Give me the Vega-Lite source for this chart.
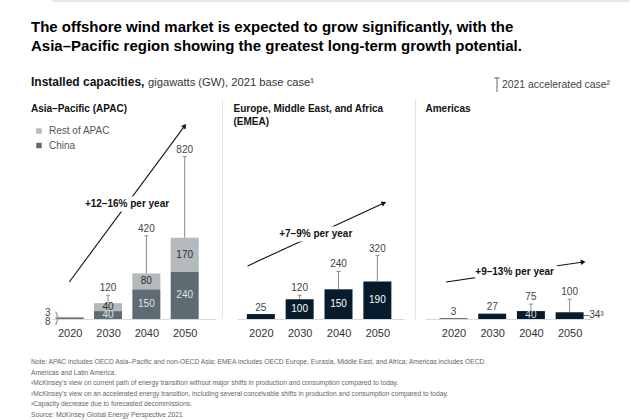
{
  "$schema": "https://vega.github.io/schema/vega-lite/v6.json",
  "autosize": {"type": "pad"},
  "padding": {"left": 31, "top": 0, "right": 5, "bottom": 5},
  "config": {
    "font": "Liberation Sans",
    "view": {"stroke": null},
    "text": {"fontSize": 10, "color": "#333"},
    "axisX": {"ticks": false, "grid": false, "domainColor": "#d9d9d9", "domainWidth": 1, "labelFontSize": 11, "labelColor": "#333", "labelPadding": 8, "labelFlush": false, "labelOverlap": false, "format": "d"},
    "axisY": {"domain": false, "labels": false, "ticks": false, "grid": false}
  },
  "datasets": {
    "topline": [{"v": 0}],
    "bars": [
      {"region": "APAC", "year": 2020, "segment": "China", "value": 8, "lab": "left"},
      {"region": "APAC", "year": 2020, "segment": "Rest of APAC", "value": 3, "lab": "left"},
      {"region": "APAC", "year": 2030, "segment": "China", "value": 40, "lab": "in"},
      {"region": "APAC", "year": 2030, "segment": "Rest of APAC", "value": 40, "lab": "in"},
      {"region": "APAC", "year": 2040, "segment": "China", "value": 150, "lab": "in"},
      {"region": "APAC", "year": 2040, "segment": "Rest of APAC", "value": 80, "lab": "in"},
      {"region": "APAC", "year": 2050, "segment": "China", "value": 240, "lab": "in"},
      {"region": "APAC", "year": 2050, "segment": "Rest of APAC", "value": 170, "lab": "in"},
      {"region": "EMEA", "year": 2020, "segment": "EMEA", "value": 25, "lab": "above"},
      {"region": "EMEA", "year": 2030, "segment": "EMEA", "value": 100, "lab": "in"},
      {"region": "EMEA", "year": 2040, "segment": "EMEA", "value": 150, "lab": "in"},
      {"region": "EMEA", "year": 2050, "segment": "EMEA", "value": 190, "lab": "in"},
      {"region": "Americas", "year": 2020, "segment": "Americas", "value": 3, "lab": "above"},
      {"region": "Americas", "year": 2030, "segment": "Americas", "value": 27, "lab": "above"},
      {"region": "Americas", "year": 2040, "segment": "Americas", "value": 40, "lab": "in"},
      {"region": "Americas", "year": 2050, "segment": "Americas", "value": 34, "lab": "right", "label": "–34³"}
    ],
    "accel": [
      {"region": "APAC", "year": 2030, "base": 80, "accel": 120, "case": "2021 accelerated case²"},
      {"region": "APAC", "year": 2040, "base": 230, "accel": 420, "case": "2021 accelerated case²"},
      {"region": "APAC", "year": 2050, "base": 410, "accel": 820, "case": "2021 accelerated case²"},
      {"region": "EMEA", "year": 2030, "base": 100, "accel": 120, "case": "2021 accelerated case²"},
      {"region": "EMEA", "year": 2040, "base": 150, "accel": 240, "case": "2021 accelerated case²"},
      {"region": "EMEA", "year": 2050, "base": 190, "accel": 320, "case": "2021 accelerated case²"},
      {"region": "Americas", "year": 2040, "base": 40, "accel": 75, "case": "2021 accelerated case²"},
      {"region": "Americas", "year": 2050, "base": 34, "accel": 100, "case": "2021 accelerated case²"}
    ],
    "arrows": [
      {"region": "APAC", "year": 2019.9, "gw": 187, "label": "+12–16% per year"},
      {"region": "APAC", "year": 2050, "gw": 975, "label": "+12–16% per year"},
      {"region": "EMEA", "year": 2016.6, "gw": 268, "label": "+7–9% per year"},
      {"region": "EMEA", "year": 2051.7, "gw": 586, "label": "+7–9% per year"},
      {"region": "Americas", "year": 2018.1, "gw": 187, "label": "+9–13% per year"},
      {"region": "Americas", "year": 2053.5, "gw": 288, "label": "+9–13% per year"}
    ]
  },
  "spacing": 17,
  "vconcat": [
    {
      "width": 577, "height": 1,
      "data": {"name": "topline"},
      "mark": {"type": "rule", "color": "#cfcfcf", "strokeWidth": 1},
      "encoding": {"y": {"field": "v", "type": "quantitative", "title": null, "scale": {"domain": [0, 1]}, "axis": null}}
    },
    {
      "title": {
        "text": ["The offshore wind market is expected to grow significantly, with the", "Asia–Pacific region showing the greatest long-term growth potential."],
        "anchor": "start", "fontSize": 15, "fontWeight": "bold", "lineHeight": 19, "color": "#000", "offset": 22
      },
      "vconcat": [
        {
          "title": {"text": "Installed capacities,", "anchor": "start", "fontSize": 12, "fontWeight": "bold", "color": "#111", "offset": -11.5},
          "vconcat": [
            {
              "title": {"text": "gigawatts (GW), 2021 base case¹", "anchor": "start", "dx": 117, "fontSize": 11.2, "fontWeight": "normal", "color": "#333", "offset": -11.5},
              "vconcat": [
                {
                  "title": {
                    "text": [
                      "Note: APAC includes OECD Asia–Pacific and non-OECD Asia; EMEA includes OECD Europe, Eurasia, Middle East, and Africa; Americas includes OECD",
                      "Americas and Latin America.",
                      "¹McKinsey's view on current path of energy transition without major shifts in production and consumption compared to today.",
                      "²McKinsey's view on an accelerated energy transition, including several conceivable shifts in production and consumption compared to today.",
                      "³Capacity decrease due to forecasted decommissions.",
                      "Source: McKinsey Global Energy Perspective 2021"
                    ],
                    "orient": "bottom", "anchor": "start", "fontSize": 6.7, "lineHeight": 10.6, "color": "#666", "fontWeight": "normal", "offset": 21
                  },
                  "bounds": "flush",
                  "spacing": 21,
                  "resolve": {"scale": {"color": "independent"}},
                  "hconcat": [
                    {
                      "width": 164, "height": 220,
                      "title": {"text": "Asia–Pacific (APAC)", "anchor": "start", "frame": "group", "dx": -21, "offset": -15, "fontSize": 10, "fontWeight": "bold", "color": "#111"},
                      "layer": [
                        {
                          "data": {"name": "arrows"},
                          "transform": [{"filter": "datum.region === 'APAC'"}],
                          "mark": {"type": "line", "color": "#111", "strokeWidth": 1.1},
                          "encoding": {
                            "x": {"field": "year", "type": "quantitative", "title": null, "scale": {"domain": [2016.69, 2056.86], "nice": false, "zero": false}, "axis": {"values": [2020, 2030, 2040, 2050]}},
                            "y": {"field": "gw", "type": "quantitative", "title": null, "scale": {"domain": [0, 1111], "nice": false}}
                          }
                        },
                        {
                          "data": {"name": "arrows"},
                          "transform": [{"filter": "datum.region === 'APAC'"}],
                          "mark": {"type": "point", "shape": "triangle-up", "filled": true, "size": 30, "angle": 38, "color": "#111", "opacity": 1},
                          "encoding": {
                            "x": {"aggregate": "max", "field": "year", "type": "quantitative", "title": null, "scale": {"domain": [2016.69, 2056.86], "nice": false, "zero": false}},
                            "y": {"aggregate": "max", "field": "gw", "type": "quantitative", "title": null, "scale": {"domain": [0, 1111], "nice": false}}
                          }
                        },
                        {
                          "data": {"name": "arrows"},
                          "transform": [{"filter": "datum.region === 'APAC'"}],
                          "mark": {"type": "text", "fontSize": 10, "fontWeight": "bold", "color": "white", "stroke": "white", "strokeWidth": 9, "strokeJoin": "round"},
                          "encoding": {
                            "x": {"aggregate": "mean", "field": "year", "type": "quantitative", "title": null, "scale": {"domain": [2016.69, 2056.86], "nice": false, "zero": false}},
                            "y": {"aggregate": "mean", "field": "gw", "type": "quantitative", "title": null, "scale": {"domain": [0, 1111], "nice": false}},
                            "text": {"field": "label", "type": "nominal"}
                          }
                        },
                        {
                          "data": {"name": "arrows"},
                          "transform": [{"filter": "datum.region === 'APAC'"}],
                          "mark": {"type": "text", "fontSize": 10, "fontWeight": "bold", "color": "#111"},
                          "encoding": {
                            "x": {"aggregate": "mean", "field": "year", "type": "quantitative", "title": null, "scale": {"domain": [2016.69, 2056.86], "nice": false, "zero": false}},
                            "y": {"aggregate": "mean", "field": "gw", "type": "quantitative", "title": null, "scale": {"domain": [0, 1111], "nice": false}},
                            "text": {"field": "label", "type": "nominal"}
                          }
                        },
                        {
                          "data": {"name": "bars"},
                          "transform": [{"filter": "datum.region === 'APAC'"}],
                          "mark": {"type": "bar", "width": 28, "orient": "vertical"},
                          "encoding": {
                            "x": {"field": "year", "type": "quantitative", "title": null, "scale": {"domain": [2016.69, 2056.86], "nice": false, "zero": false}},
                            "y": {"field": "value", "type": "quantitative", "title": null, "stack": "zero", "scale": {"domain": [0, 1111], "nice": false}},
                            "color": {"field": "segment", "type": "nominal", "scale": {"domain": ["Rest of APAC", "China"], "range": ["#b4b9bc", "#5f6b73"]},
                              "legend": {"orient": "none", "legendX": -18, "legendY": 27, "title": null, "symbolType": "square", "symbolSize": 30, "symbolStrokeWidth": 0, "labelFontSize": 10, "labelColor": "#555", "rowPadding": 4.5, "labelOffset": 5, "padding": 0}},
                            "order": {"field": "segment", "sort": "ascending"}
                          }
                        },
                        {
                          "data": {"name": "accel"},
                          "transform": [{"filter": "datum.region === 'APAC'"}],
                          "mark": {"type": "rule", "color": "#8c8c8c", "strokeWidth": 1},
                          "encoding": {
                            "x": {"field": "year", "type": "quantitative", "title": null, "scale": {"domain": [2016.69, 2056.86], "nice": false, "zero": false}},
                            "y": {"field": "base", "type": "quantitative", "title": null, "scale": {"domain": [0, 1111], "nice": false}},
                            "y2": {"field": "accel"}
                          }
                        },
                        {
                          "data": {"name": "accel"},
                          "transform": [{"filter": "datum.region === 'APAC'"}],
                          "mark": {"type": "tick", "orient": "horizontal", "size": 4, "thickness": 1, "color": "#8c8c8c", "opacity": 1},
                          "encoding": {
                            "x": {"field": "year", "type": "quantitative", "title": null, "scale": {"domain": [2016.69, 2056.86], "nice": false, "zero": false}},
                            "y": {"field": "accel", "type": "quantitative", "title": null, "scale": {"domain": [0, 1111], "nice": false}}
                          }
                        },
                        {
                          "data": {"name": "accel"},
                          "transform": [{"filter": "datum.region === 'APAC'"}],
                          "mark": {"type": "text", "dy": -7, "fontSize": 10, "color": "#444"},
                          "encoding": {
                            "x": {"field": "year", "type": "quantitative", "title": null, "scale": {"domain": [2016.69, 2056.86], "nice": false, "zero": false}},
                            "y": {"field": "accel", "type": "quantitative", "title": null, "scale": {"domain": [0, 1111], "nice": false}},
                            "text": {"field": "accel", "type": "quantitative"}
                          }
                        },
                        {
                          "data": {"name": "bars"},
                          "transform": [{"filter": "datum.region === 'APAC' && datum.lab === 'in'"}],
                          "mark": {"type": "text", "fontSize": 10},
                          "encoding": {
                            "x": {"field": "year", "type": "quantitative", "title": null, "scale": {"domain": [2016.69, 2056.86], "nice": false, "zero": false}},
                            "y": {"field": "value", "type": "quantitative", "title": null, "stack": "zero", "bandPosition": 0.5, "scale": {"domain": [0, 1111], "nice": false}},
                            "detail": {"field": "segment"},
                            "order": {"field": "segment", "sort": "ascending"},
                            "text": {"field": "value", "type": "quantitative"},
                            "color": {"condition": {"test": "datum.segment === 'China'", "value": "#dfe2e4"}, "value": "#2b2b2b"}
                          }
                        },
                        {
                          "data": {"name": "bars"},
                          "transform": [{"filter": "datum.region === 'APAC' && datum.lab === 'left' && datum.segment === 'Rest of APAC'"}],
                          "mark": {"type": "text", "fontSize": 10, "dx": -22, "dy": -6, "color": "#444"},
                          "encoding": {
                            "x": {"field": "year", "type": "quantitative", "title": null, "scale": {"domain": [2016.69, 2056.86], "nice": false, "zero": false}},
                            "y": {"datum": 0, "type": "quantitative", "title": null, "scale": {"domain": [0, 1111], "nice": false}},
                            "text": {"field": "value", "type": "quantitative"}
                          }
                        },
                        {
                          "data": {"name": "bars"},
                          "transform": [{"filter": "datum.region === 'APAC' && datum.lab === 'left' && datum.segment === 'China'"}],
                          "mark": {"type": "text", "fontSize": 10, "dx": -22, "dy": 3, "color": "#444"},
                          "encoding": {
                            "x": {"field": "year", "type": "quantitative", "title": null, "scale": {"domain": [2016.69, 2056.86], "nice": false, "zero": false}},
                            "y": {"datum": 0, "type": "quantitative", "title": null, "scale": {"domain": [0, 1111], "nice": false}},
                            "text": {"field": "value", "type": "quantitative"}
                          }
                        },
                        {
                          "data": {"name": "bars"},
                          "transform": [{"filter": "datum.region === 'APAC' && datum.lab === 'left' && datum.segment === 'China'"}],
                          "mark": {"type": "text", "text": "⟩", "fontSize": 15, "dx": -13, "dy": -1, "color": "#999"},
                          "encoding": {
                            "x": {"field": "year", "type": "quantitative", "title": null, "scale": {"domain": [2016.69, 2056.86], "nice": false, "zero": false}},
                            "y": {"datum": 0, "type": "quantitative", "title": null, "scale": {"domain": [0, 1111], "nice": false}}
                          }
                        }
                      ]
                    },
                    {
                      "width": 167, "height": 220,
                      "title": {"text": ["Europe, Middle East, and Africa", "(EMEA)"], "anchor": "start", "frame": "group", "dx": -3.5, "offset": -28, "fontSize": 10, "fontWeight": "bold", "lineHeight": 13, "color": "#111"},
                      "layer": [
                        {
                          "data": {"name": "arrows"},
                          "transform": [{"filter": "datum.region === 'EMEA'"}],
                          "mark": {"type": "line", "color": "#111", "strokeWidth": 1.1},
                          "encoding": {
                            "x": {"field": "year", "type": "quantitative", "title": null, "scale": {"domain": [2015.16, 2055.57], "nice": false, "zero": false}, "axis": {"values": [2020, 2030, 2040, 2050]}},
                            "y": {"field": "gw", "type": "quantitative", "title": null, "scale": {"domain": [0, 1111], "nice": false}, "axis": {"domain": true, "domainColor": "#e6e6e6", "offset": 15}}
                          }
                        },
                        {
                          "data": {"name": "arrows"},
                          "transform": [{"filter": "datum.region === 'EMEA'"}],
                          "mark": {"type": "point", "shape": "triangle-up", "filled": true, "size": 30, "angle": 66, "color": "#111", "opacity": 1},
                          "encoding": {
                            "x": {"aggregate": "max", "field": "year", "type": "quantitative", "title": null, "scale": {"domain": [2015.16, 2055.57], "nice": false, "zero": false}},
                            "y": {"aggregate": "max", "field": "gw", "type": "quantitative", "title": null, "scale": {"domain": [0, 1111], "nice": false}}
                          }
                        },
                        {
                          "data": {"name": "arrows"},
                          "transform": [{"filter": "datum.region === 'EMEA'"}],
                          "mark": {"type": "text", "fontSize": 10, "fontWeight": "bold", "color": "white", "stroke": "white", "strokeWidth": 9, "strokeJoin": "round"},
                          "encoding": {
                            "x": {"aggregate": "mean", "field": "year", "type": "quantitative", "title": null, "scale": {"domain": [2015.16, 2055.57], "nice": false, "zero": false}},
                            "y": {"aggregate": "mean", "field": "gw", "type": "quantitative", "title": null, "scale": {"domain": [0, 1111], "nice": false}},
                            "text": {"field": "label", "type": "nominal"}
                          }
                        },
                        {
                          "data": {"name": "arrows"},
                          "transform": [{"filter": "datum.region === 'EMEA'"}],
                          "mark": {"type": "text", "fontSize": 10, "fontWeight": "bold", "color": "#111"},
                          "encoding": {
                            "x": {"aggregate": "mean", "field": "year", "type": "quantitative", "title": null, "scale": {"domain": [2015.16, 2055.57], "nice": false, "zero": false}},
                            "y": {"aggregate": "mean", "field": "gw", "type": "quantitative", "title": null, "scale": {"domain": [0, 1111], "nice": false}},
                            "text": {"field": "label", "type": "nominal"}
                          }
                        },
                        {
                          "data": {"name": "bars"},
                          "transform": [{"filter": "datum.region === 'EMEA'"}],
                          "mark": {"type": "bar", "width": 28, "orient": "vertical", "color": "#061c2c"},
                          "encoding": {
                            "x": {"field": "year", "type": "quantitative", "title": null, "scale": {"domain": [2015.16, 2055.57], "nice": false, "zero": false}},
                            "y": {"field": "value", "type": "quantitative", "title": null, "stack": "zero", "scale": {"domain": [0, 1111], "nice": false}}
                          }
                        },
                        {
                          "data": {"name": "accel"},
                          "transform": [{"filter": "datum.region === 'EMEA'"}],
                          "mark": {"type": "rule", "color": "#8c8c8c", "strokeWidth": 1},
                          "encoding": {
                            "x": {"field": "year", "type": "quantitative", "title": null, "scale": {"domain": [2015.16, 2055.57], "nice": false, "zero": false}},
                            "y": {"field": "base", "type": "quantitative", "title": null, "scale": {"domain": [0, 1111], "nice": false}},
                            "y2": {"field": "accel"}
                          }
                        },
                        {
                          "data": {"name": "accel"},
                          "transform": [{"filter": "datum.region === 'EMEA'"}],
                          "mark": {"type": "tick", "orient": "horizontal", "size": 4, "thickness": 1, "color": "#8c8c8c", "opacity": 1},
                          "encoding": {
                            "x": {"field": "year", "type": "quantitative", "title": null, "scale": {"domain": [2015.16, 2055.57], "nice": false, "zero": false}},
                            "y": {"field": "accel", "type": "quantitative", "title": null, "scale": {"domain": [0, 1111], "nice": false}}
                          }
                        },
                        {
                          "data": {"name": "accel"},
                          "transform": [{"filter": "datum.region === 'EMEA'"}],
                          "mark": {"type": "text", "dy": -7, "fontSize": 10, "color": "#444"},
                          "encoding": {
                            "x": {"field": "year", "type": "quantitative", "title": null, "scale": {"domain": [2015.16, 2055.57], "nice": false, "zero": false}},
                            "y": {"field": "accel", "type": "quantitative", "title": null, "scale": {"domain": [0, 1111], "nice": false}},
                            "text": {"field": "accel", "type": "quantitative"}
                          }
                        },
                        {
                          "data": {"name": "bars"},
                          "transform": [{"filter": "datum.region === 'EMEA' && datum.lab === 'in'"}],
                          "mark": {"type": "text", "fontSize": 10, "color": "#ffffff"},
                          "encoding": {
                            "x": {"field": "year", "type": "quantitative", "title": null, "scale": {"domain": [2015.16, 2055.57], "nice": false, "zero": false}},
                            "y": {"field": "value", "type": "quantitative", "title": null, "stack": "zero", "bandPosition": 0.5, "scale": {"domain": [0, 1111], "nice": false}},
                            "text": {"field": "value", "type": "quantitative"}
                          }
                        },
                        {
                          "data": {"name": "bars"},
                          "transform": [{"filter": "datum.region === 'EMEA' && datum.lab === 'above'"}],
                          "mark": {"type": "text", "fontSize": 10, "dy": -6.5, "color": "#444"},
                          "encoding": {
                            "x": {"field": "year", "type": "quantitative", "title": null, "scale": {"domain": [2015.16, 2055.57], "nice": false, "zero": false}},
                            "y": {"field": "value", "type": "quantitative", "title": null, "stack": null, "scale": {"domain": [0, 1111], "nice": false}},
                            "text": {"field": "value", "type": "quantitative"}
                          }
                        }
                      ]
                    },
                    {
                      "width": 167, "height": 220,
                      "title": {"text": "Americas", "anchor": "start", "frame": "group", "dx": 0.5, "offset": -37, "fontSize": 10, "fontWeight": "bold", "color": "#111"},
                      "layer": [
                        {
                          "data": {"name": "arrows"},
                          "transform": [{"filter": "datum.region === 'Americas'"}],
                          "mark": {"type": "line", "color": "#111", "strokeWidth": 1.1},
                          "encoding": {
                            "x": {"field": "year", "type": "quantitative", "title": null, "scale": {"domain": [2013.93, 2054.49], "nice": false, "zero": false}, "axis": {"values": [2020, 2030, 2040, 2050]}},
                            "y": {"field": "gw", "type": "quantitative", "title": null, "scale": {"domain": [0, 1111], "nice": false}, "axis": {"domain": true, "domainColor": "#e6e6e6", "offset": 10}}
                          }
                        },
                        {
                          "data": {"name": "arrows"},
                          "transform": [{"filter": "datum.region === 'Americas'"}],
                          "mark": {"type": "point", "shape": "triangle-up", "filled": true, "size": 30, "angle": 82, "color": "#111", "opacity": 1},
                          "encoding": {
                            "x": {"aggregate": "max", "field": "year", "type": "quantitative", "title": null, "scale": {"domain": [2013.93, 2054.49], "nice": false, "zero": false}},
                            "y": {"aggregate": "max", "field": "gw", "type": "quantitative", "title": null, "scale": {"domain": [0, 1111], "nice": false}}
                          }
                        },
                        {
                          "data": {"name": "arrows"},
                          "transform": [{"filter": "datum.region === 'Americas'"}],
                          "mark": {"type": "text", "fontSize": 10, "fontWeight": "bold", "color": "white", "stroke": "white", "strokeWidth": 9, "strokeJoin": "round"},
                          "encoding": {
                            "x": {"aggregate": "mean", "field": "year", "type": "quantitative", "title": null, "scale": {"domain": [2013.93, 2054.49], "nice": false, "zero": false}},
                            "y": {"aggregate": "mean", "field": "gw", "type": "quantitative", "title": null, "scale": {"domain": [0, 1111], "nice": false}},
                            "text": {"field": "label", "type": "nominal"}
                          }
                        },
                        {
                          "data": {"name": "arrows"},
                          "transform": [{"filter": "datum.region === 'Americas'"}],
                          "mark": {"type": "text", "fontSize": 10, "fontWeight": "bold", "color": "#111"},
                          "encoding": {
                            "x": {"aggregate": "mean", "field": "year", "type": "quantitative", "title": null, "scale": {"domain": [2013.93, 2054.49], "nice": false, "zero": false}},
                            "y": {"aggregate": "mean", "field": "gw", "type": "quantitative", "title": null, "scale": {"domain": [0, 1111], "nice": false}},
                            "text": {"field": "label", "type": "nominal"}
                          }
                        },
                        {
                          "data": {"name": "bars"},
                          "transform": [{"filter": "datum.region === 'Americas'"}],
                          "mark": {"type": "bar", "width": 28, "orient": "vertical", "color": "#061c2c"},
                          "encoding": {
                            "x": {"field": "year", "type": "quantitative", "title": null, "scale": {"domain": [2013.93, 2054.49], "nice": false, "zero": false}},
                            "y": {"field": "value", "type": "quantitative", "title": null, "stack": "zero", "scale": {"domain": [0, 1111], "nice": false}}
                          }
                        },
                        {
                          "data": {"name": "accel"},
                          "transform": [{"filter": "datum.region === 'Americas'"}],
                          "mark": {"type": "rule", "strokeWidth": 1},
                          "encoding": {
                            "x": {"field": "year", "type": "quantitative", "title": null, "scale": {"domain": [2013.93, 2054.49], "nice": false, "zero": false}},
                            "y": {"field": "base", "type": "quantitative", "title": null, "scale": {"domain": [0, 1111], "nice": false}},
                            "y2": {"field": "accel"},
                            "color": {"field": "case", "type": "nominal", "scale": {"range": ["#8c8c8c"]},
                              "legend": {"orient": "none", "legendX": 64, "legendY": -22, "title": null, "symbolType": "M0,-1L0,1M-0.35,-1L0.35,-1", "symbolSize": 196, "symbolStrokeWidth": 1.3, "symbolStrokeColor": "#8c8c8c", "labelFontSize": 10.4, "labelColor": "#444", "labelOffset": -3, "padding": 0}}
                          }
                        },
                        {
                          "data": {"name": "accel"},
                          "transform": [{"filter": "datum.region === 'Americas'"}],
                          "mark": {"type": "tick", "orient": "horizontal", "size": 4, "thickness": 1, "color": "#8c8c8c", "opacity": 1},
                          "encoding": {
                            "x": {"field": "year", "type": "quantitative", "title": null, "scale": {"domain": [2013.93, 2054.49], "nice": false, "zero": false}},
                            "y": {"field": "accel", "type": "quantitative", "title": null, "scale": {"domain": [0, 1111], "nice": false}}
                          }
                        },
                        {
                          "data": {"name": "accel"},
                          "transform": [{"filter": "datum.region === 'Americas'"}],
                          "mark": {"type": "text", "dy": -7, "fontSize": 10, "color": "#444"},
                          "encoding": {
                            "x": {"field": "year", "type": "quantitative", "title": null, "scale": {"domain": [2013.93, 2054.49], "nice": false, "zero": false}},
                            "y": {"field": "accel", "type": "quantitative", "title": null, "scale": {"domain": [0, 1111], "nice": false}},
                            "text": {"field": "accel", "type": "quantitative"}
                          }
                        },
                        {
                          "data": {"name": "bars"},
                          "transform": [{"filter": "datum.region === 'Americas' && datum.lab === 'in'"}],
                          "mark": {"type": "text", "fontSize": 10, "color": "#d5d9dc"},
                          "encoding": {
                            "x": {"field": "year", "type": "quantitative", "title": null, "scale": {"domain": [2013.93, 2054.49], "nice": false, "zero": false}},
                            "y": {"field": "value", "type": "quantitative", "title": null, "stack": "zero", "bandPosition": 0.5, "scale": {"domain": [0, 1111], "nice": false}},
                            "text": {"field": "value", "type": "quantitative"}
                          }
                        },
                        {
                          "data": {"name": "bars"},
                          "transform": [{"filter": "datum.region === 'Americas' && datum.lab === 'above'"}],
                          "mark": {"type": "text", "fontSize": 10, "dy": -6.5, "color": "#444"},
                          "encoding": {
                            "x": {"field": "year", "type": "quantitative", "title": null, "scale": {"domain": [2013.93, 2054.49], "nice": false, "zero": false}},
                            "y": {"field": "value", "type": "quantitative", "title": null, "stack": null, "scale": {"domain": [0, 1111], "nice": false}},
                            "text": {"field": "value", "type": "quantitative"}
                          }
                        },
                        {
                          "data": {"name": "bars"},
                          "transform": [{"filter": "datum.region === 'Americas' && datum.lab === 'right'"}],
                          "mark": {"type": "text", "fontSize": 10, "dx": 14, "dy": 3, "align": "left", "color": "#444"},
                          "encoding": {
                            "x": {"field": "year", "type": "quantitative", "title": null, "scale": {"domain": [2013.93, 2054.49], "nice": false, "zero": false}},
                            "y": {"field": "value", "type": "quantitative", "title": null, "stack": null, "scale": {"domain": [0, 1111], "nice": false}},
                            "text": {"field": "label", "type": "nominal"}
                          }
                        }
                      ]
                    }
                  ]
                }
              ]
            }
          ]
        }
      ]
    }
  ]
}
